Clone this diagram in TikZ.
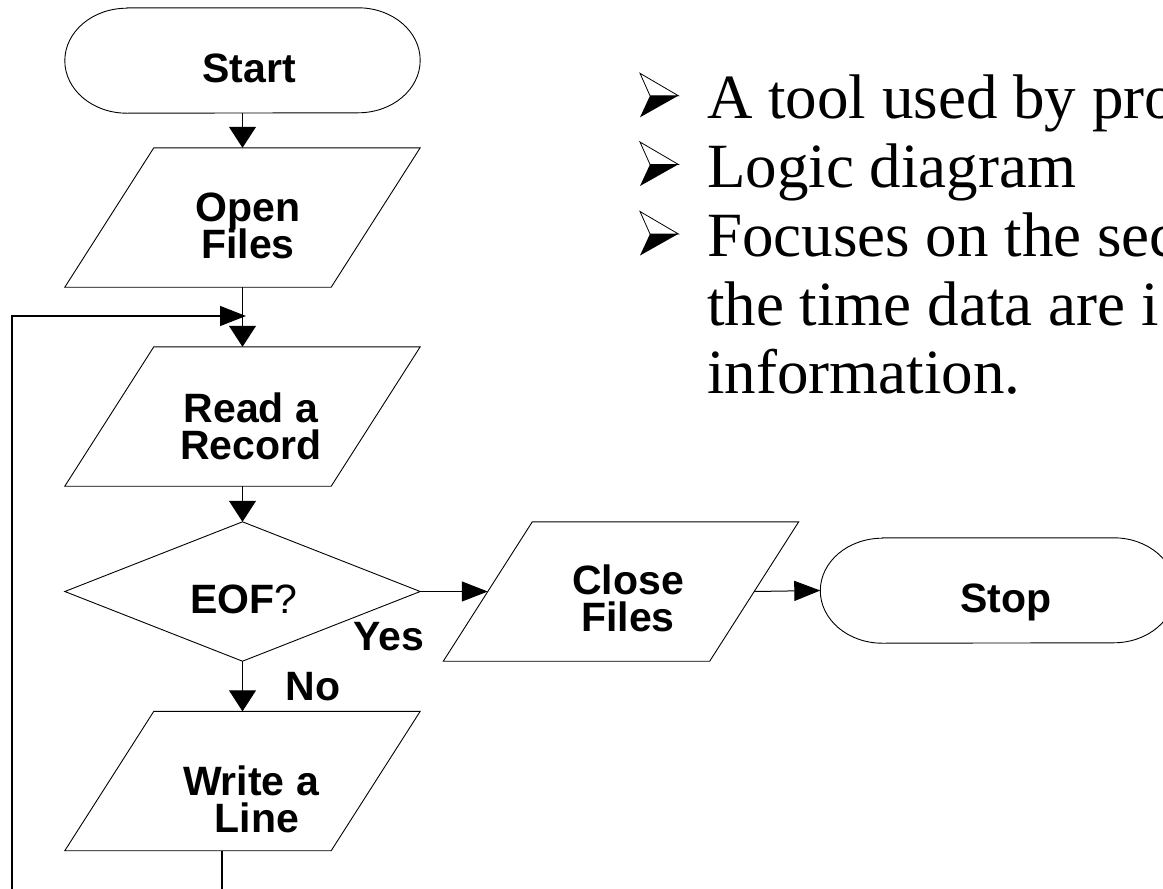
\documentclass[tikz,border=0pt]{standalone}
\usepackage{fontspec}
\setmainfont{Liberation Serif}
\newfontfamily\flowfont{Liberation Sans}
\usetikzlibrary{arrows.meta}

% bold sans for the flowchart, tight leading between the two lines of a symbol
\newcommand\flowtype{\flowfont\bfseries\fontsize{41}{37}\selectfont\lineskiplimit=-60pt\relax}

\tikzset{
  % bounding boxes of the flowchart symbols (the outlines are drawn from their anchors)
  termbox/.style={minimum width=355pt, minimum height=105pt, inner sep=0pt, draw=none},
  iobox/.style={minimum width=355pt, minimum height=139pt, inner sep=0pt, draw=none},
  decbox/.style={minimum width=355pt, minimum height=139pt, inner sep=0pt, draw=none},
  outline/.style={draw=black, line width=0.9pt, line join=miter},
  lbl/.style={font=\flowtype, align=center, inner sep=0pt},
  tag/.style={font=\flowtype, inner sep=0pt, anchor=base},
  vflow/.style={draw=black, line width=1pt, -{Triangle[length=21pt,width=27pt]}},
  hflow/.style={draw=black, line width=1pt, -{Triangle[length=26pt,width=20pt]}},
  loopline/.style={draw=black, line width=1.3pt, -{Triangle[length=26pt,width=20pt]}},
  bodytext/.style={font=\fontsize{63}{68}\selectfont, inner sep=0pt, anchor=base west},
  barrow/.pic={
    \fill[black] (10,22.4) -- (38.3,22.4) -- (0,44) -- cycle;
    \draw[black, fill=white, line width=0.8pt, line join=miter] (0,0) -- (38.3,22.4) -- (10,22.4) -- cycle;
  }
}

\newcommand\terminalpath[1]{%
  \draw[outline] ([xshift=62pt]#1.north west) -- ([xshift=-62pt]#1.north east)
    arc[start angle=90, end angle=-90, x radius=62pt, y radius=52.5pt]
    -- ([xshift=62pt]#1.south west)
    arc[start angle=270, end angle=90, x radius=62pt, y radius=52.5pt] -- cycle;}
\newcommand\iopath[1]{%
  \draw[outline] ([xshift=89pt]#1.north west) -- (#1.north east)
    -- ([xshift=-89pt]#1.south east) -- (#1.south west) -- cycle;}

\begin{document}
\begin{tikzpicture}[x=1pt, y=-1pt]
  \useasboundingbox (0,0) rectangle (1163,889);
  \fill[white] (0,0) rectangle (1163,889);

  % flowchart symbols
  \node[termbox] (start) at (242.5,60.5) {};
  \node[iobox]   (open)  at (242.5,217.5) {};
  \node[iobox]   (read)  at (242.5,416.5) {};
  \node[decbox]  (eof)   at (242.5,591.5) {};
  \node[iobox]   (write) at (242.5,781) {};
  \node[iobox]   (close) at (621,591.5) {};
  \node[termbox] (stop)  at (998,590.5) {};

  \terminalpath{start}
  \terminalpath{stop}
  \iopath{open}
  \iopath{read}
  \iopath{write}
  \iopath{close}
  \draw[outline] (eof.north) -- (eof.east) -- (eof.south) -- (eof.west) -- cycle;

  % symbol texts
  \node[tag] (startT) at (249,82) {Start};
  \node[lbl] (openT)  at (248,225.5) {Open\\Files};
  \node[lbl] (readT)  at (251,426.5) {Read a\\Record};
  \node[tag] (eofT)   at (244,613) {EOF\mdseries ?};
  \node[lbl] (writeT) at (251,799) {Write a\\\ Line};
  \node[lbl] (closeT) at (628,598.5) {Close\\Files};
  \node[tag] (stopT)  at (1006,612) {Stop};
  \node[tag] (yesT)   at (389,650) {Yes};
  \node[tag] (noT)    at (313,700) {No};

  % flow lines
  \draw[vflow] (start.south) -- (open.north);
  \draw[vflow] (open.south) -- (read.north);
  \draw[vflow] (read.south) -- (eof.north);
  \draw[vflow] (eof.south) -- (write.north);
  \draw[hflow] (eof.east) -- ([xshift=44.5pt]close.west);
  \draw[hflow] ([xshift=-44.5pt]close.east) -- (stop.west);

  % return loop back to the read step
  \coordinate (loopin) at (246,316);
  \coordinate (loopleft) at (12,316);
  \draw[loopline] ([xshift=-20.5pt]write.south) -- ++(0,80) -| (loopleft) -- (loopin);

  % bullet list
  \node[bodytext] (t1) at (707,118) {A tool used by pro};
  \node[bodytext] (t2) at (707,187) {Logic diagram};
  \node[bodytext] (t3) at (707,256) {Focuses on the sec};
  \node[bodytext] (t4) at (707,325) {the time data are i};
  \node[bodytext] (t5) at (707,393) {information.};
  \pic at (640,73.3) {barrow};
  \pic at (640,142) {barrow};
  \pic at (640,211.5) {barrow};
\end{tikzpicture}
\end{document}
